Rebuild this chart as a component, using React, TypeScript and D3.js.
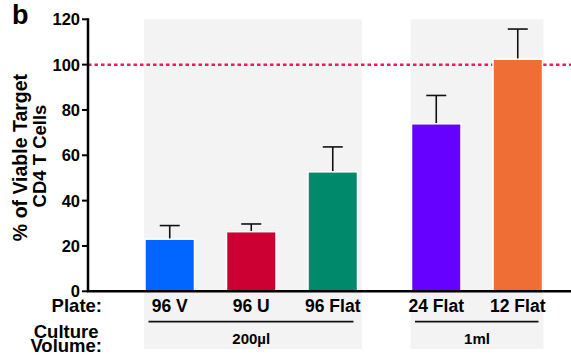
import React from "react";
import * as d3 from "d3";

const plates = ["96 V", "96 U", "96 Flat", "24 Flat", "12 Flat"];
const groups = [0, 0, 0, 1, 1];
const volumes = ["200µl", "1ml"];
const means = [23, 26.3, 52.7, 73.9, 102.4];
const errs = [29, 29.7, 63.7, 86.4, 115.7];
const colors = ["#0066ff", "#cc0033", "#00896b", "#6600ff", "#ee6e36"];
const yTicks = [0, 20, 40, 60, 80, 100, 120];
const reference = 100;

const W = 571;
const H = 364;
const font = "'Liberation Sans', Arial, Helvetica, sans-serif";

export default function App() {
  const y = d3.scaleLinear().domain([0, 120]).range([291.3, 19.3]);
  const band = d3.scaleBand().domain(plates).range([145, 520.5]).paddingInner(0.393).paddingOuter(0);
  const gap = 22;
  const bw = band.bandwidth();
  const x = (p: string) => (band(p) as number) + groups[plates.indexOf(p)] * gap;
  const axisX = 88;

  const groupRanges = volumes.map((v, g) => {
    const ps = plates.filter((_, i) => groups[i] === g);
    return { v, g, x0: x(ps[0]), x1: x(ps[ps.length - 1]) + bw };
  });

  return (
    <svg width={W} height={H} style={{ position: "absolute", left: 0, top: 0 }} fontFamily={font} fontWeight="bold">
      {groupRanges.map((r) => (
        <rect key={"panel" + r.g} x={r.x0 - 1} y={y(120)} width={r.x1 - r.x0 + (r.g === 0 ? 5.5 : 2)} height={349 - y(120)} fill="#f3f3f3" />
      ))}
      <line x1={axisX} x2={W} y1={y(reference)} y2={y(reference)} stroke="#f5175f" strokeWidth={2.5} strokeDasharray="3.5 3" />
      {plates.map((p, i) => (
        <g key={p}>
          <line x1={x(p) + bw / 2} x2={x(p) + bw / 2} y1={y(means[i])} y2={y(errs[i])} stroke="#111" strokeWidth={1.6} />
          <line x1={x(p) + bw / 2 - 10} x2={x(p) + bw / 2 + 10} y1={y(errs[i])} y2={y(errs[i])} stroke="#111" strokeWidth={1.6} />
          <rect x={x(p)} y={y(means[i])} width={bw} height={y(0) - y(means[i])} fill={colors[i]} stroke="#fff" strokeWidth={1.5} />
          <text x={x(p) + bw / 2} y={312} textAnchor="middle" fontSize={17.5} fill="#000">{p}</text>
        </g>
      ))}
      <line x1={axisX} x2={axisX} y1={y(120) - 1} y2={y(0)} stroke="#000" strokeWidth={2.5} />
      <line x1={axisX - 1.2} x2={W} y1={y(0)} y2={y(0)} stroke="#000" strokeWidth={2.5} />
      {yTicks.map((t) => (
        <g key={t}>
          <line x1={axisX - 6} x2={axisX} y1={y(t)} y2={y(t)} stroke="#000" strokeWidth={2} />
          <text x={80} y={y(t)} dy="0.36em" textAnchor="end" fontSize={16.5} fill="#000">{t}</text>
        </g>
      ))}
      {groupRanges.map((r) => (
        <g key={"vol" + r.g}>
          <line x1={r.x0 + 3.5} x2={r.x1 - 4} y1={321.7} y2={321.7} stroke="#111" strokeWidth={1.8} />
          <text x={(r.x0 + r.x1) / 2} y={344} textAnchor="middle" fontSize={15} fill="#000">{r.v}</text>
        </g>
      ))}
      <text x={102} y={312} textAnchor="end" fontSize={18.5} fill="#000">Plate:</text>
      <text x={98.5} y={338} textAnchor="end" fontSize={18.5} fill="#000">Culture</text>
      <text x={102} y={352} textAnchor="end" fontSize={18.5} fill="#000">Volume:</text>
      <g transform="rotate(-90)" textAnchor="middle" fill="#000">
        <text x={-157.5} y={27} fontSize={19.5}>% of Viable Target</text>
        <text x={-156} y={46} fontSize={18.5}>CD4 T Cells</text>
      </g>
      <text x={12} y={24} fontSize={27} fill="#000">b</text>
    </svg>
  );
}
